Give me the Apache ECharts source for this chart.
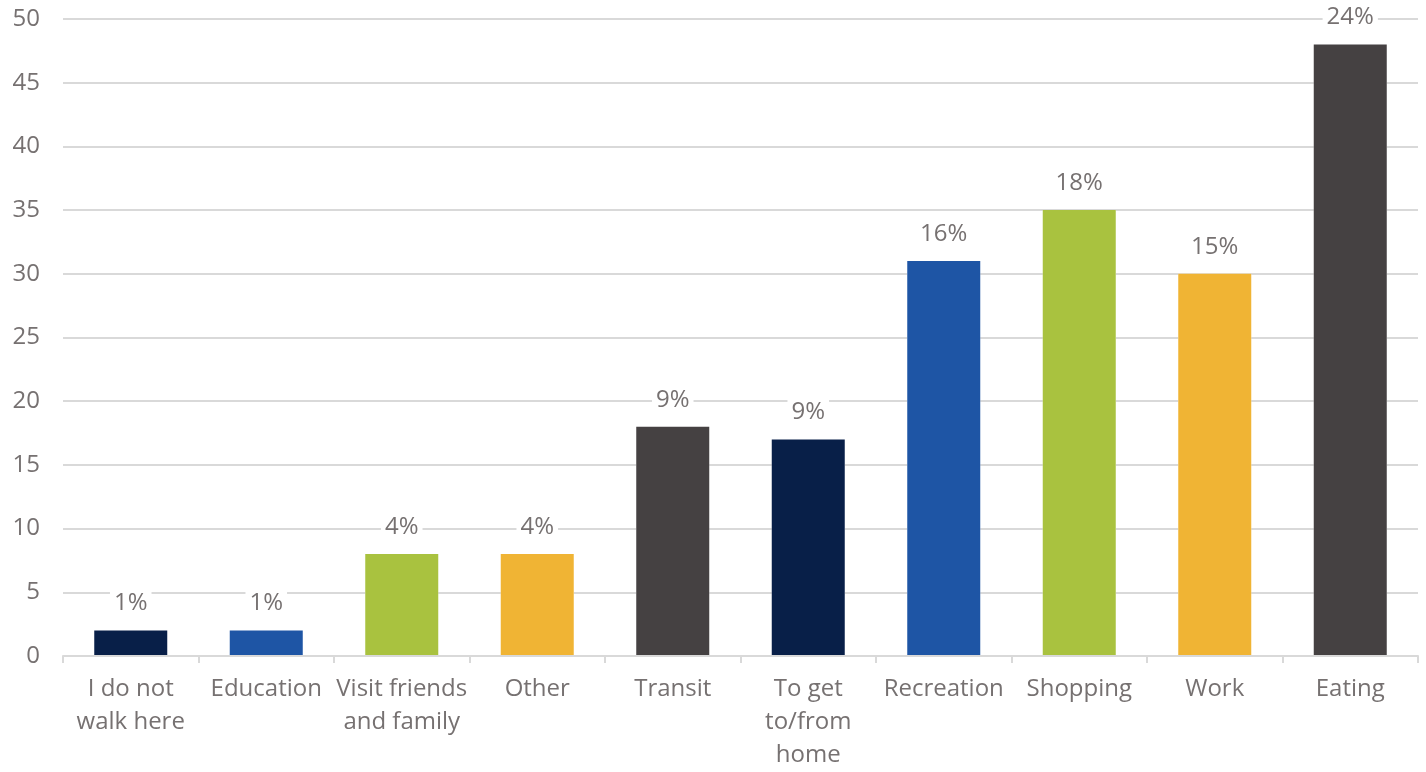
<!DOCTYPE html>
<html>
<head>
<meta charset="utf-8">
<script src="https://cdn.jsdelivr.net/npm/echarts@6/dist/echarts.min.js"></script>
<style>
  html, body { margin: 0; padding: 0; background: #ffffff; overflow: hidden; }
  #chart { width: 1426px; height: 772px; }
</style>
</head>
<body>
<div id="chart"></div>
<script>
// Reasons for walking here: response counts and their share of all responses
const categories = ['I do not\nwalk here', 'Education', 'Visit friends\nand family', 'Other', 'Transit',
  'To get\nto/from\nhome', 'Recreation', 'Shopping', 'Work', 'Eating'];
const counts = [2, 2, 8, 8, 18, 17, 31, 35, 30, 48];
const shareLabels = ['1%', '1%', '4%', '4%', '9%', '9%', '16%', '18%', '15%', '24%'];
const barColors = ['#081f48', '#1e55a5', '#a9c23f', '#f0b434', '#454142',
  '#081f48', '#1e55a5', '#a9c23f', '#f0b434', '#454142'];
const yTicks = { min: 0, max: 50, interval: 5 };

const textColor = '#767171';
const font = '"Open Sans", "Noto Sans", sans-serif';

const chart = echarts.init(document.getElementById('chart'), null, { renderer: 'canvas' });

chart.setOption({
  animation: false,
  backgroundColor: '#ffffff',
  grid: { left: 63, right: 8, top: 19, bottom: 111, containLabel: false },
  xAxis: {
    type: 'category',
    data: categories,
    z: 3,
    axisLine: { lineStyle: { color: '#d9d9d9', width: 2 } },
    axisTick: { show: true, length: 7, alignWithLabel: false, lineStyle: { color: '#d9d9d9', width: 2 } },
    axisLabel: {
      color: textColor, fontFamily: font, fontSize: 24, lineHeight: 33,
      margin: 17, interval: 0
    }
  },
  yAxis: {
    type: 'value',
    min: yTicks.min, max: yTicks.max, interval: yTicks.interval,
    z: 0,
    axisLine: { show: false },
    axisTick: { show: false },
    axisLabel: { color: textColor, fontFamily: font, fontSize: 24, margin: 23 },
    splitLine: { lineStyle: { color: '#d9d9d9', width: 2 } }
  },
  series: [
    {
      // white margin that breaks the gridlines around each bar
      type: 'bar',
      data: counts,
      barWidth: 73,
      barGap: '-100%',
      z: 1,
      silent: true,
      itemStyle: { color: '#ffffff', borderColor: '#ffffff', borderWidth: 8 }
    },
    {
      type: 'bar',
      data: counts.map((v, i) => ({ value: v, itemStyle: { color: barColors[i] } })),
      barWidth: 73,
      barGap: '-100%',
      z: 2,
      label: {
        show: true,
        position: 'top',
        distance: 13,
        color: textColor,
        fontFamily: font,
        fontSize: 24,
        lineHeight: 24,
        backgroundColor: '#ffffff',
        padding: [2, 4],
        formatter: p => shareLabels[p.dataIndex]
      }
    }
  ]
});
</script>
</body>
</html>
